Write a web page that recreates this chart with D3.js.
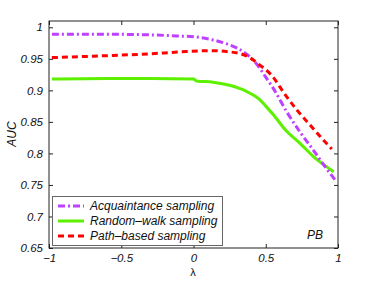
<!DOCTYPE html>
<html><head><meta charset="utf-8">
<script src="https://cdn.jsdelivr.net/npm/d3@7"></script>
<style>body{margin:0;background:#fff}svg{display:block}text{font-family:"Liberation Sans",Arial,sans-serif;font-style:italic}</style>
</head><body><svg id="c" width="374" height="281"></svg>
<script>
const xTicks=[-1,-0.5,0,0.5,1];
const yTicks=[0.65,0.7,0.75,0.8,0.85,0.9,0.95,1];
const seriesNames=["Acquaintance sampling","Random\u2013walk sampling","Path\u2013based sampling"];
const acqX=[-0.98,-0.6,-0.3,-0.09,0,0.135,0.25,0.31,0.37,0.44,0.5,0.55,0.645,0.737,0.83,0.92,0.98];
const acqY=[0.989,0.989,0.988,0.986,0.985,0.980,0.972,0.966,0.957,0.941,0.921,0.904,0.866,0.834,0.805,0.776,0.758];
const rwX=[-0.98,-0.6,-0.3,0,0.02,0.135,0.25,0.37,0.46,0.5,0.55,0.645,0.737,0.83,0.92,0.97];
const rwY=[0.918,0.919,0.919,0.918,0.915,0.913,0.908,0.898,0.885,0.875,0.862,0.835,0.816,0.795,0.779,0.771];
const pbX=[-0.98,-0.6,-0.3,-0.09,0.135,0.25,0.31,0.38,0.46,0.54,0.635,0.715,0.807,0.9,0.957];
const pbY=[0.952,0.955,0.958,0.961,0.963,0.961,0.959,0.953,0.94,0.924,0.893,0.869,0.845,0.821,0.807];
const colors=["#bf40ff","#5df000","#ff0000"];

const svg=d3.select("#c");
const L=49,R=338,T=21,B=248;
const x=d3.scaleLinear().domain([-1,1]).range([L,R]);
const y=d3.scaleLinear().domain([0.65,1.01]).range([B,T]);

svg.append("rect").attr("x",L).attr("y",T).attr("width",R-L).attr("height",B-T).attr("fill","none").attr("stroke","#222").attr("stroke-width",1);

const fs="11.5px";
const bx=svg.append("g").attr("transform",`translate(0,${B})`).call(d3.axisBottom(x).tickValues(xTicks).tickSize(-4).tickPadding(6).tickFormat(d=>d===0?"0":String(d).replace("-","\u2212")));
const lx=svg.append("g").attr("transform",`translate(${L},0)`).call(d3.axisLeft(y).tickValues(yTicks).tickSize(-4).tickPadding(6).tickFormat(d=>String(d)));
const tx=svg.append("g").attr("transform",`translate(0,${T})`).call(d3.axisTop(x).tickValues(xTicks).tickSize(-4).tickFormat(""));
const rx=svg.append("g").attr("transform",`translate(${R},0)`).call(d3.axisRight(y).tickValues(yTicks).tickSize(-4).tickFormat(""));
[bx,lx,tx,rx].forEach(g=>{g.select(".domain").remove();g.selectAll("line").attr("stroke","#222");g.selectAll("text").attr("font-size",fs).attr("fill","#111").style("font-family","'Liberation Sans',Arial,sans-serif").style("font-style","italic");});

const line=d3.line().x(d=>x(d[0])).y(d=>y(d[1])).curve(d3.curveMonotoneX);
const data=[d3.zip(acqX,acqY),d3.zip(rwX,rwY),d3.zip(pbX,pbY)];
const dashes=["7,3,2,3",null,"6,4"];
[1,0,2].forEach(i=>{
  svg.append("path").attr("d",line(data[i])).attr("fill","none").attr("stroke",colors[i]).attr("stroke-width",3).attr("stroke-dasharray",dashes[i]);
});

const lg=svg.append("g");
lg.append("rect").attr("x",52.5).attr("y",196.5).attr("width",170).attr("height",49).attr("fill","#fff").attr("stroke","#666").attr("stroke-width",1);
const ly=[206,221,236];
[0,1,2].forEach(i=>{
  lg.append("line").attr("x1",58).attr("x2",84).attr("y1",ly[i]).attr("y2",ly[i]).attr("stroke",colors[i]).attr("stroke-width",3).attr("stroke-dasharray",dashes[i]);
  lg.append("text").attr("x",90).attr("y",ly[i]).attr("dy","0.35em").attr("font-size","12px").attr("fill","#111").text(seriesNames[i]);
});

svg.append("text").attr("x",315).attr("y",239).attr("text-anchor","middle").attr("font-size","12px").attr("fill","#111").text("PB");
svg.append("text").attr("x",193).attr("y",275.5).attr("text-anchor","middle").attr("font-size","11px").attr("fill","#111").style("font-style","normal").text("\u03bb");
svg.append("text").attr("transform","translate(16,134) rotate(-90)").attr("text-anchor","middle").attr("font-size","12px").attr("fill","#111").text("AUC");
</script></body></html>
